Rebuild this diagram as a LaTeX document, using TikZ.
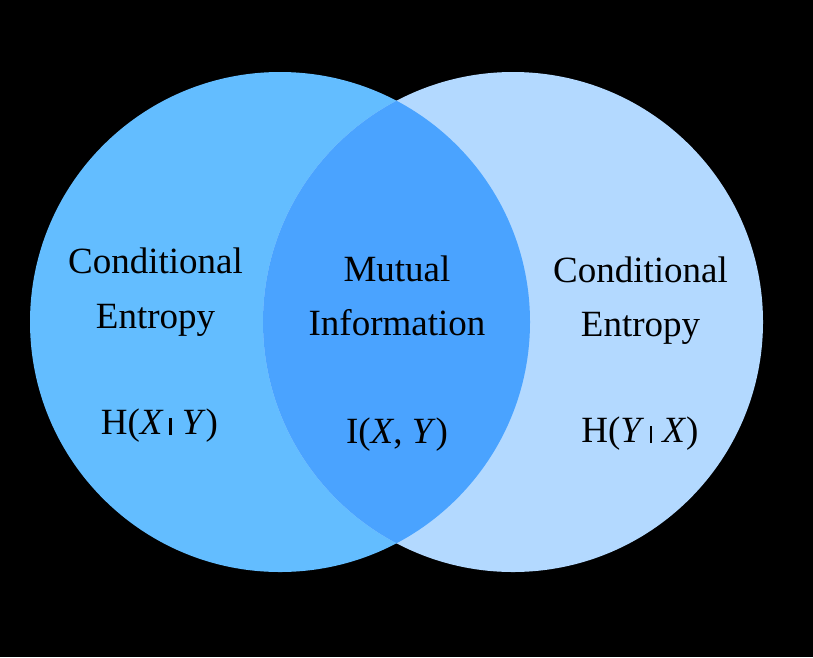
\documentclass[tikz,border=0pt]{standalone}
\usepackage{fontspec}
\setmainfont{Liberation Serif}
\usepackage{tikz}
\usetikzlibrary{positioning, calc}
\definecolor{condXcolor}{RGB}{99, 189, 255}
\definecolor{condYcolor}{RGB}{179, 217, 255}
\definecolor{mutualcolor}{RGB}{74, 163, 255}
\newcommand{\givenbar}{\hspace{5.5pt}\rule[-1pt]{2.6pt}{17.5pt}\hspace{10pt}}

\begin{document}
\begin{tikzpicture}[x=1pt,y=-1pt,
  lbl/.style={anchor=base,inner sep=0pt,font=\fontsize{37}{44}\selectfont}]
\fill[black] (0,0) rectangle (813,657);
\useasboundingbox (0,0) rectangle (813,657);
% the two entropies
\fill[condXcolor] (280,322) circle (250);
\fill[condYcolor] (513,322) circle (250);
\begin{scope}
\clip (280,322) circle (250);
\fill[mutualcolor] (513,322) circle (250);
\end{scope}
% left
\node[lbl] (condX1) at (155.5,273) {Conditional};
\node[lbl] (condX2) at (155.5,328) {Entropy};
\node[lbl] (hXY) at (159.5,434) {H(\textit{X}\givenbar\textit{Y})};
% middle
\node[lbl] (mut1) at (397,281) {Mutual};
\node[lbl] (mut2) at (397,335) {Information};
\node[lbl] (iXY) at (397,443) {I(\textit{X}, \textit{Y})};
% right
\node[lbl] (condY1) at (640.5,282) {Conditional};
\node[lbl] (condY2) at (640.5,336) {Entropy};
\node[lbl] (hYX) at (640,442) {H(\textit{Y}\givenbar\textit{X})};
\end{tikzpicture}
\end{document}
